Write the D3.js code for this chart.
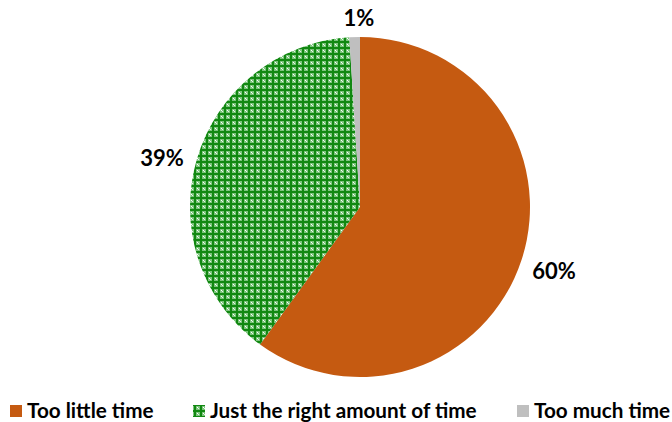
<!DOCTYPE html>
<html><head><meta charset="utf-8">
<script src="https://cdn.jsdelivr.net/npm/d3@7"></script>
<style>body{margin:0;background:#fff}svg{display:block}</style>
</head><body>
<svg id="c" width="672" height="422"></svg>
<script>
const categories = ["Too little time", "Just the right amount of time", "Too much time"];
const values = [60, 39, 1];
const labels = ["60%", "39%", "1%"];
const colors = ["#c55a11", "url(#grid)", "#bfbfbf"];

const svg = d3.select("#c");
const defs = svg.append("defs");
const p = defs.append("pattern").attr("id", "grid").attr("patternUnits","userSpaceOnUse")
  .attr("width",6).attr("height",6);
p.append("rect").attr("width",6).attr("height",6).attr("fill","#7cc47c");
p.append("rect").attr("x",2).attr("y",0).attr("width",2).attr("height",6).attr("fill","#118811");
p.append("rect").attr("x",0).attr("y",2).attr("width",6).attr("height",2).attr("fill","#118811");
p.append("rect").attr("x",5).attr("y",5).attr("width",1).attr("height",1).attr("fill","#ffffff");
p.append("rect").attr("x",0).attr("y",0).attr("width",1).attr("height",1).attr("fill","#e6f5e6");

const cx = 360, cy = 207, r = 170;
const pie = d3.pie().sort(null).value(d => d)(values);
const arc = d3.arc().innerRadius(0).outerRadius(r);
const g = svg.append("g").attr("transform", `translate(${cx},${cy})`);
g.selectAll("path").data(pie).join("path")
  .attr("d", arc).attr("fill", (d,i) => colors[i]);

const labelPos = [[194, 63], [-198, -50], [-1, -190]];
g.selectAll("text").data(pie).join("text")
  .attr("x", (d,i) => labelPos[i][0]).attr("y", (d,i) => labelPos[i][1])
  .attr("text-anchor","middle").attr("dominant-baseline","central")
  .attr("font-family","Lato, 'Open Sans', sans-serif").attr("font-weight","bold")
  .attr("font-size", 22).attr("fill","#000")
  .text((d,i) => labels[i]);

const legX = [10, 193, 517];
const lg = svg.append("g");
categories.forEach((c,i) => {
  lg.append("rect").attr("x", legX[i]).attr("y", 405).attr("width", 12).attr("height", 12)
    .attr("fill", colors[i]);
  lg.append("text").attr("x", legX[i] + 17).attr("y", 418)
    .attr("font-family","Lato, 'Open Sans', sans-serif").attr("font-weight","bold")
    .attr("font-size", 20.7).attr("fill","#000").text(c);
});
</script>
</body></html>
